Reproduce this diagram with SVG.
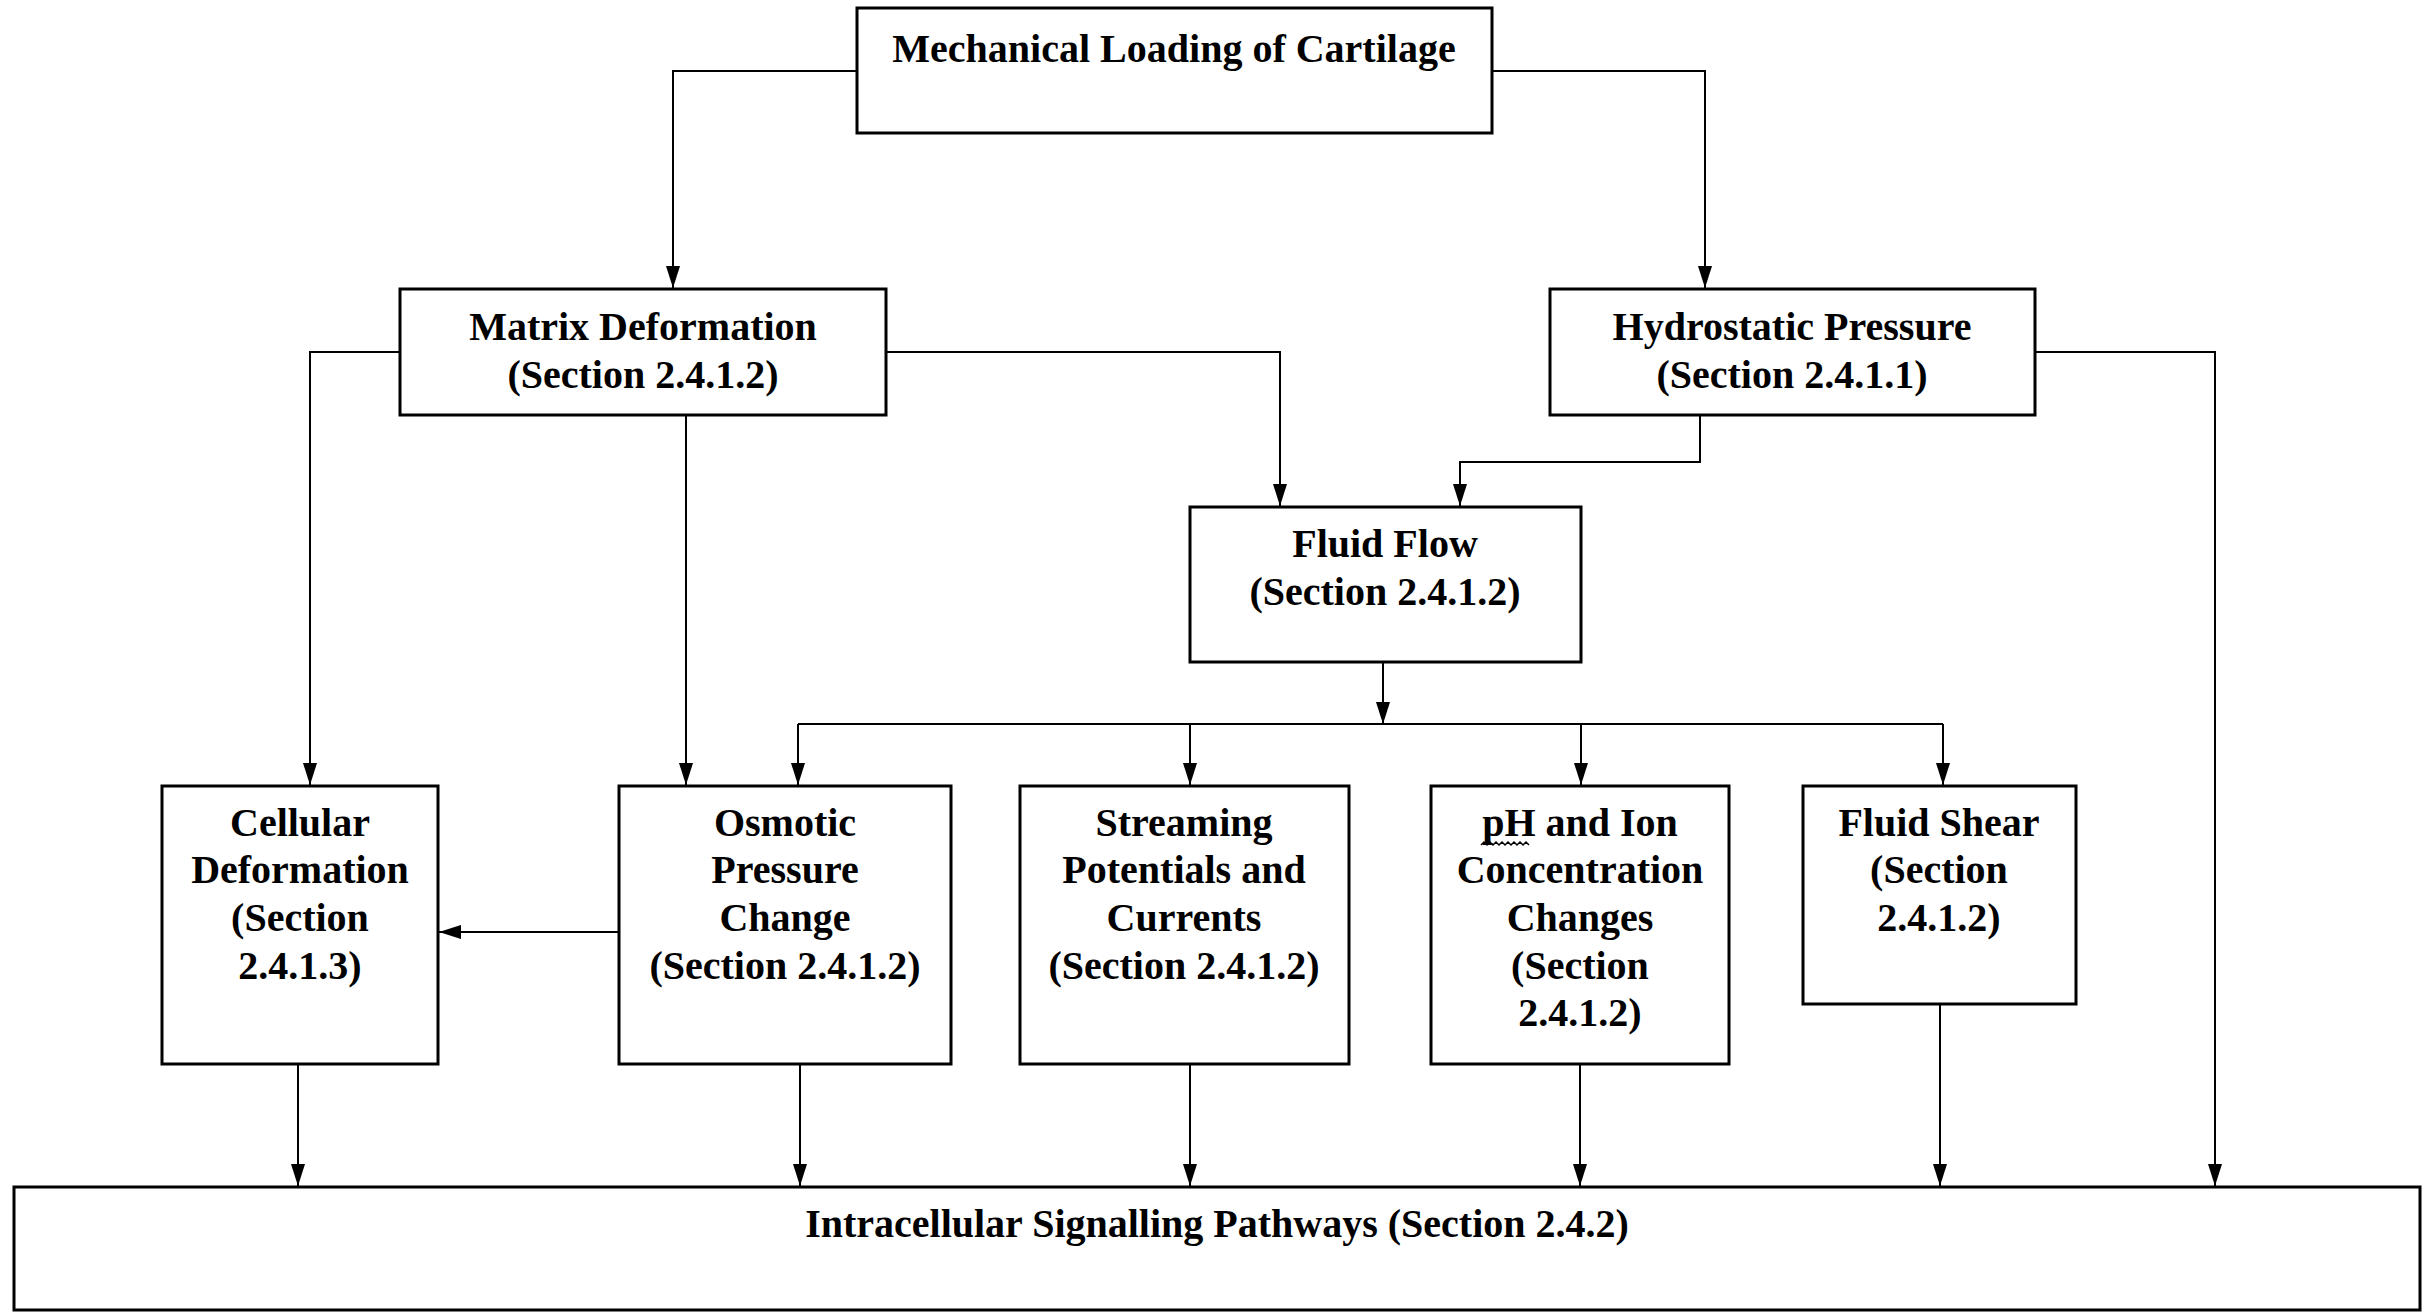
<svg xmlns="http://www.w3.org/2000/svg" width="2429" height="1313" viewBox="0 0 2429 1313">
<style>
.box{fill:#fff;stroke:#000;stroke-width:3}
.t{font-family:"Liberation Serif","Times New Roman",serif;font-weight:bold;font-size:40px;text-anchor:middle;fill:#000}
.c{fill:none;stroke:#000;stroke-width:2}
</style>
<defs>
<marker id="ah" markerUnits="userSpaceOnUse" markerWidth="22" markerHeight="14" refX="22" refY="7" orient="auto">
<path d="M0,0 L22,7 L0,14 z" fill="#000"/>
</marker>
</defs>
<rect width="2429" height="1313" fill="#fff"/>
<g id="connectors">
<path class="c" d="M857,71 H673 V288" marker-end="url(#ah)"/>
<path class="c" d="M1492,71 H1705 V288" marker-end="url(#ah)"/>
<path class="c" d="M400,352 H310 V785" marker-end="url(#ah)"/>
<path class="c" d="M686,415 V785" marker-end="url(#ah)"/>
<path class="c" d="M886,352 H1280 V506" marker-end="url(#ah)"/>
<path class="c" d="M1700,415 V462 H1460 V506" marker-end="url(#ah)"/>
<path class="c" d="M2035,352 H2215 V1186" marker-end="url(#ah)"/>
<path class="c" d="M1383,662 V724" marker-end="url(#ah)"/>
<path class="c" d="M798,724 H1943"/>
<path class="c" d="M798,724 V785" marker-end="url(#ah)"/>
<path class="c" d="M1190,724 V785" marker-end="url(#ah)"/>
<path class="c" d="M1581,724 V785" marker-end="url(#ah)"/>
<path class="c" d="M1943,724 V785" marker-end="url(#ah)"/>
<path class="c" d="M619,932 H439" marker-end="url(#ah)"/>
<path class="c" d="M298,1064 V1186" marker-end="url(#ah)"/>
<path class="c" d="M800,1064 V1186" marker-end="url(#ah)"/>
<path class="c" d="M1190,1064 V1186" marker-end="url(#ah)"/>
<path class="c" d="M1580,1064 V1186" marker-end="url(#ah)"/>
<path class="c" d="M1940,1004 V1186" marker-end="url(#ah)"/>
</g>
<g id="mechanical-loading">
<rect class="box" x="857" y="8" width="635" height="125"/>
<text class="t" x="1174" y="62">Mechanical Loading of Cartilage</text>
</g>
<g id="matrix-deformation">
<rect class="box" x="400" y="289" width="486" height="126"/>
<text class="t" x="643" y="340">Matrix Deformation</text>
<text class="t" x="643" y="388">(Section 2.4.1.2)</text>
</g>
<g id="hydrostatic-pressure">
<rect class="box" x="1550" y="289" width="485" height="126"/>
<text class="t" x="1792" y="340">Hydrostatic Pressure</text>
<text class="t" x="1792" y="388">(Section 2.4.1.1)</text>
</g>
<g id="fluid-flow">
<rect class="box" x="1190" y="507" width="391" height="155"/>
<text class="t" x="1385" y="557">Fluid Flow</text>
<text class="t" x="1385" y="605">(Section 2.4.1.2)</text>
</g>
<g id="cellular-deformation">
<rect class="box" x="162" y="786" width="276" height="278"/>
<text class="t" x="300" y="836">Cellular</text>
<text class="t" x="300" y="883">Deformation</text>
<text class="t" x="300" y="931">(Section</text>
<text class="t" x="300" y="979">2.4.1.3)</text>
</g>
<g id="osmotic-pressure">
<rect class="box" x="619" y="786" width="332" height="278"/>
<text class="t" x="785" y="836">Osmotic</text>
<text class="t" x="785" y="883">Pressure</text>
<text class="t" x="785" y="931">Change</text>
<text class="t" x="785" y="979">(Section 2.4.1.2)</text>
</g>
<g id="streaming-potentials">
<rect class="box" x="1020" y="786" width="329" height="278"/>
<text class="t" x="1184" y="836">Streaming</text>
<text class="t" x="1184" y="883">Potentials and</text>
<text class="t" x="1184" y="931">Currents</text>
<text class="t" x="1184" y="979">(Section 2.4.1.2)</text>
</g>
<g id="ph-ion">
<rect class="box" x="1431" y="786" width="298" height="278"/>
<text class="t" x="1580" y="836">pH and Ion</text>
<path d="M1481,845 l3,-3 l3,3 l3,-3 l3,3 l3,-3 l3,3 l3,-3 l3,3 l3,-3 l3,3 l3,-3 l3,3 l3,-3 l3,3 l3,-3 l3,3" fill="none" stroke="#000" stroke-width="1.5"/>
<text class="t" x="1580" y="883">Concentration</text>
<text class="t" x="1580" y="931">Changes</text>
<text class="t" x="1580" y="979">(Section</text>
<text class="t" x="1580" y="1026">2.4.1.2)</text>
</g>
<g id="fluid-shear">
<rect class="box" x="1803" y="786" width="273" height="218"/>
<text class="t" x="1939" y="836">Fluid Shear</text>
<text class="t" x="1939" y="883">(Section</text>
<text class="t" x="1939" y="931">2.4.1.2)</text>
</g>
<g id="intracellular-signalling">
<rect class="box" x="14" y="1187" width="2406" height="123"/>
<text class="t" x="1217" y="1237">Intracellular Signalling Pathways (Section 2.4.2)</text>
</g>
</svg>
